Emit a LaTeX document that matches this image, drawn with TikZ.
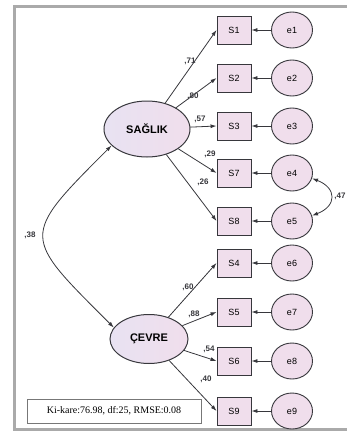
\documentclass[tikz,border=0pt]{standalone}
\usepackage{fontspec}
\setmainfont{Liberation Serif}
\setsansfont{Liberation Sans}
\usetikzlibrary{arrows.meta,shapes.geometric}
\definecolor{lavfill}{RGB}{232,226,242}
\definecolor{pinkfill}{RGB}{240,222,236}
\definecolor{edgegray}{RGB}{55,55,60}
\definecolor{framegray}{RGB}{170,170,170}
\begin{document}
\begin{tikzpicture}[x=1pt, y=-1pt,
    font=\sffamily\fontsize{9}{10}\selectfont,
    obs/.style={draw=edgegray, line width=0.9pt, fill=pinkfill, rectangle,
                minimum width=34pt, minimum height=28pt, inner sep=0pt},
    err/.style={draw=edgegray, line width=0.9pt, fill=pinkfill, ellipse,
                minimum width=41pt, minimum height=36pt, inner sep=0pt},
    latent/.style={draw=edgegray, line width=1pt, ellipse, left color=lavfill,
                   right color=pinkfill, inner sep=0pt,
                   font=\sffamily\bfseries\fontsize{11}{12}\selectfont},
    arr/.style={-{Latex[length=6pt,width=4pt]}, draw=edgegray, line width=0.8pt},
    cov/.style={{Latex[length=6pt,width=4pt]}-{Latex[length=6pt,width=4pt]},
                draw=edgegray, line width=0.8pt},
    lbl/.style={font=\sffamily\bfseries\fontsize{8}{9}\selectfont,
                inner sep=0pt, text=edgegray},
  ]
    \useasboundingbox (0,0) rectangle (347,434);
    \draw[framegray, line width=3pt] (352,6.5) -- (14.5,6.5) -- (14.5,429.5) -- (352,429.5);

    \foreach \s/\e/\y in {S1/e1/30, S2/e2/78, S3/e3/126, S7/e4/173, S8/e5/221,
                          S4/e6/263, S5/e7/312, S6/e8/361, S9/e9/411} {
      \node[obs] (\s) at (234,\y) {\s};
      \node[err] (\e) at (292,\y) {\e};
      \draw[arr] (\e) -- (\s);
    }

    \node[latent, minimum width=86pt, minimum height=56pt] (sag) at (147,129) {SAĞLIK};
    \node[latent, minimum width=78pt, minimum height=49pt] (cev) at (149,339) {ÇEVRE};

    \foreach \s in {S1,S2,S3,S7,S8} \draw[arr] (sag) -- (\s.west);
    \foreach \s in {S4,S5,S6,S9} \draw[arr] (cev) -- (\s.west);

    % loadings
    \node[lbl] (l71) at (190,61) {,71};
    \node[lbl] (l80) at (193,96) {,80};
    \node[lbl] (l57) at (200,119) {,57};
    \node[lbl] (l29) at (210,154) {,29};
    \node[lbl] (l26) at (203,182) {,26};
    \node[lbl] (l60) at (188,287) {,60};
    \node[lbl] (l88) at (194,314) {,88};
    \node[lbl] (l54) at (209,349) {,54};
    \node[lbl] (l40) at (206,379) {,40};

    % covariances
    \draw[cov] (sag.205) .. controls +(-92,92) and +(-92,-92) .. (cev.162);
    \node[lbl] (l38) at (30,235) {,38};
    \draw[cov] (e4.-15) .. controls (337,188) and (337,206) .. (e5.15);
    \node[lbl] (l47) at (340,196) {,47};

    \node[draw=framegray!70!black, line width=0.6pt, minimum width=174pt,
          minimum height=24pt, font=\rmfamily\fontsize{10}{12}\selectfont]
      (fit) at (114,411) {Ki-kare:76.98, df:25, RMSE:0.08};
  \end{tikzpicture}
\end{document}
